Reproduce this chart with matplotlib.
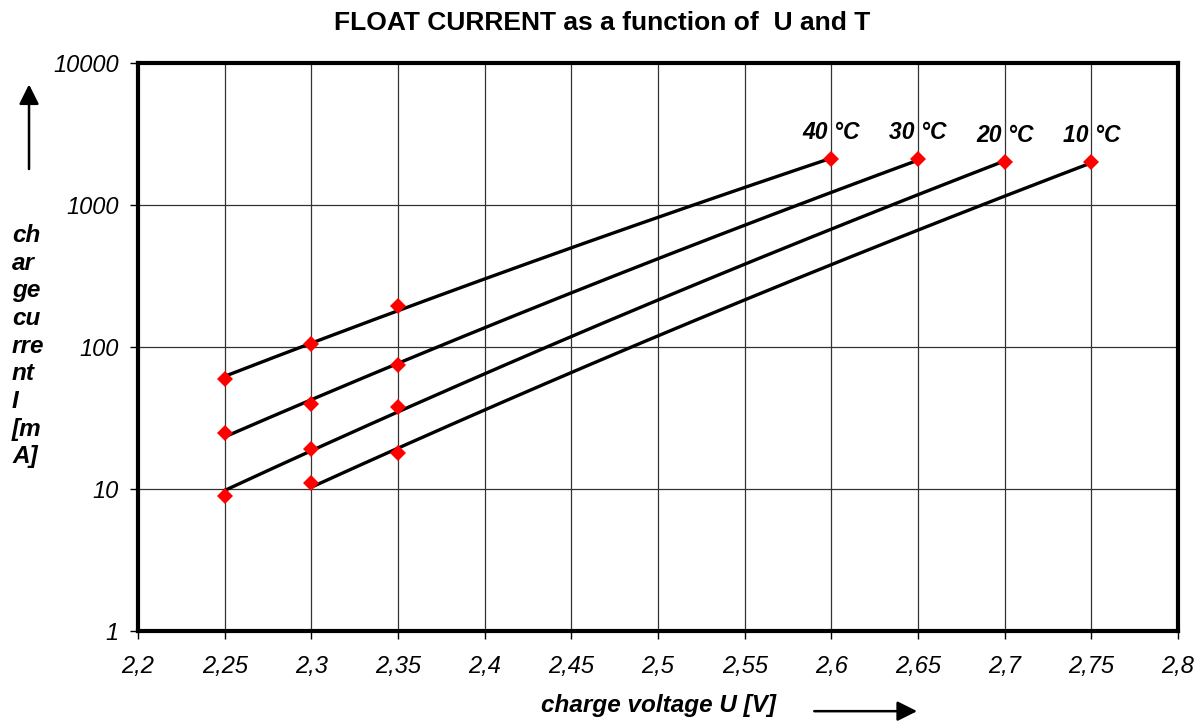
import numpy as np
import matplotlib
matplotlib.use('Agg')
import matplotlib.pyplot as plt
from matplotlib.ticker import FixedLocator, FuncFormatter, NullLocator

plt.rcParams['font.family'] = ['Liberation Sans', 'DejaVu Sans']

# Measured points (charge voltage U [V], float current I [mA])
labels = ['40 °C', '30 °C', '20 °C', '10 °C']
u40 = [2.25, 2.30, 2.35, 2.60]
i40 = [60, 105, 193, 2100]
u30 = [2.25, 2.30, 2.35, 2.65]
i30 = [25, 40, 75, 2100]
u20 = [2.25, 2.30, 2.35, 2.70]
i20 = [9, 19, 38, 2000]
u10 = [2.30, 2.35, 2.75]
i10 = [11, 18, 2000]

xticks = [2.2, 2.25, 2.3, 2.35, 2.4, 2.45, 2.5, 2.55, 2.6, 2.65, 2.7, 2.75, 2.8]
yticks = [1, 10, 100, 1000, 10000]

fig = plt.figure(figsize=(12.04, 7.22), dpi=100)
ax = fig.add_axes([0.1146, 0.126, 0.8638, 0.7867])

for lab, u, i in zip(labels, [u40, u30, u20, u10], [i40, i30, i20, i10]):
    # power trendline I = a * U^b, fitted in log-log space
    coef = np.polyfit(np.log10(u), np.log10(i), 1)
    xs = np.linspace(u[0], u[-1], 200)
    ax.plot(xs, 10 ** np.polyval(coef, np.log10(xs)), color='black', lw=2.4, zorder=3)
    ax.plot(u, i, linestyle='none', marker='D', color='red', markersize=8.5,
            markeredgewidth=0, zorder=4)
    ax.annotate(lab, (u[-1], i[-1]), xytext=(0, 11), textcoords='offset points',
                ha='center', va='bottom', fontsize=16.5, fontweight='bold',
                fontstyle='italic')

ax.set_yscale('log')
ax.set_xlim(2.2, 2.8)
ax.set_ylim(1, 10000)
ax.xaxis.set_major_locator(FixedLocator(xticks))
ax.yaxis.set_major_locator(FixedLocator(yticks))
ax.yaxis.set_minor_locator(NullLocator())
ax.xaxis.set_major_formatter(FuncFormatter(lambda v, p: ('%g' % v).replace('.', ',')))
ax.yaxis.set_major_formatter(FuncFormatter(lambda v, p: '%d' % v))
ax.grid(True, color='#333333', linewidth=0.9)
for side in ax.spines.values():
    side.set_linewidth(3)
ax.tick_params(axis='both', length=6, width=1, labelsize=17)
ax.tick_params(axis='x', pad=11)
ax.tick_params(axis='y', pad=8)
for t in ax.get_xticklabels() + ax.get_yticklabels():
    t.set_fontstyle('italic')

fig.text(0.5, 0.968, 'FLOAT CURRENT as a function of  U and T', ha='center',
         va='center', fontsize=19, fontweight='bold')
fig.text(0.547, 0.023, 'charge voltage U [V]', ha='center', va='center',
         fontsize=17.5, fontweight='bold', fontstyle='italic')
fig.text(0.010, 0.69, 'ch\nar\nge\ncu\nrre\nnt\nI\n[m\nA]', ha='left', va='top',
         fontsize=17.5, fontweight='bold', fontstyle='italic', linespacing=1.26)

# direction arrows
fig.patches.append(matplotlib.patches.FancyArrowPatch(
    (0.0241, 0.762), (0.0241, 0.887), transform=fig.transFigure,
    arrowstyle='-|>', mutation_scale=30, color='black', lw=1.8))
fig.patches.append(matplotlib.patches.FancyArrowPatch(
    (0.674, 0.015), (0.764, 0.015), transform=fig.transFigure,
    arrowstyle='-|>', mutation_scale=30, color='black', lw=1.8))

fig.savefig('out.png', dpi=100)
